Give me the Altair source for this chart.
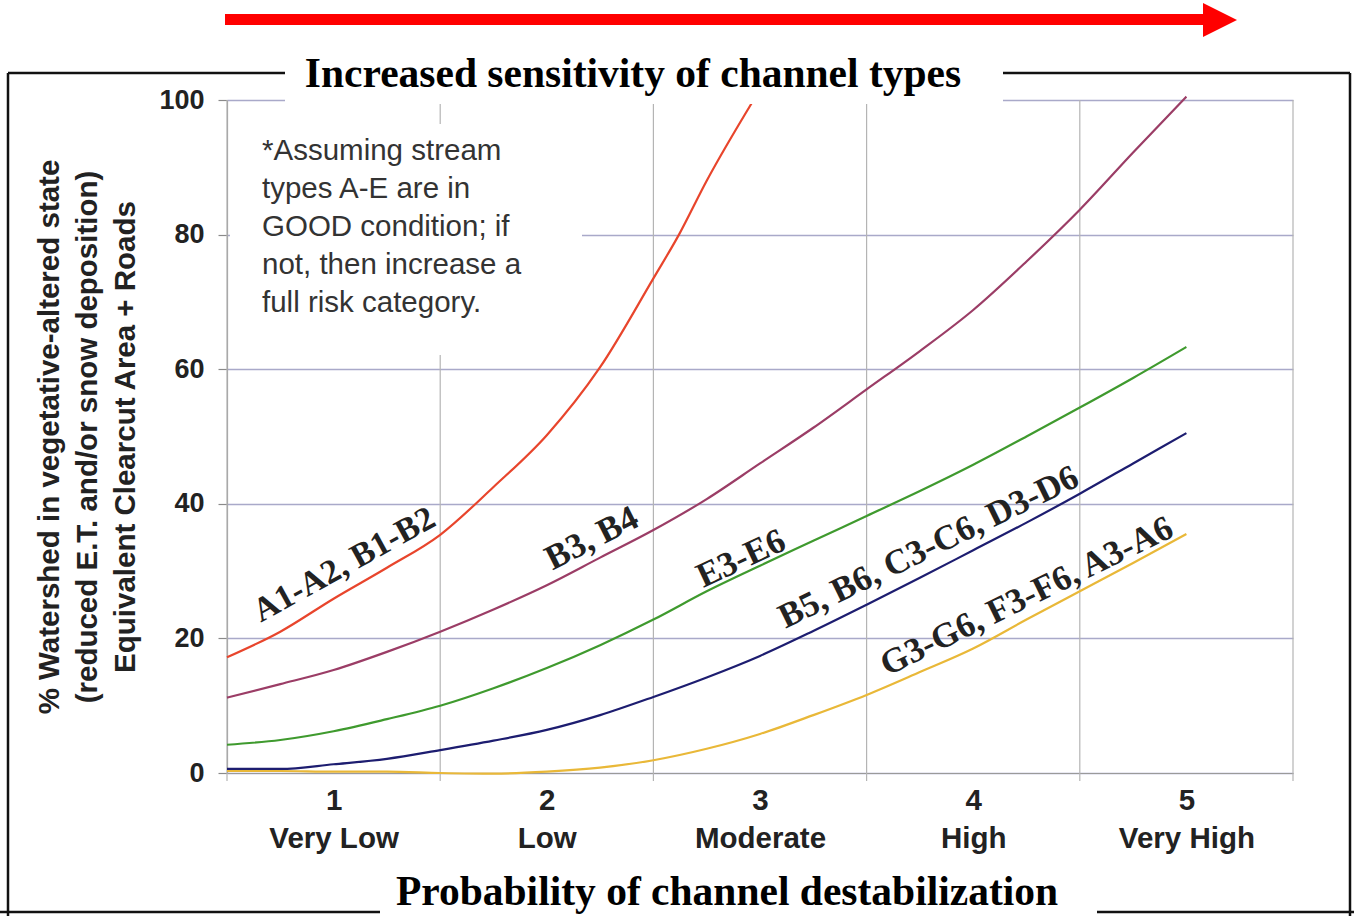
import altair as alt
import pandas as pd

# ---------------- data ----------------
x_steps = [0.5, 0.75, 1.0, 1.25, 1.5, 1.75, 2.0, 2.25, 2.5, 2.75, 3.0,
           3.25, 3.5, 3.75, 4.0, 4.25, 4.5, 4.75, 5.0]
red_x = [0.5, 0.75, 1.0, 1.25, 1.5, 1.75, 2.0, 2.25, 2.5, 2.62, 2.75, 2.97]
red_y = [17.2, 21.0, 25.9, 30.5, 35.4, 42.5, 50.2, 60.3, 73.5, 80.0, 88.0, 100.0]
purple_y = [11.2, 13.2, 15.3, 18.0, 21.0, 24.3, 27.9, 32.0, 36.1, 40.7, 46.0,
            51.3, 57.0, 62.7, 68.8, 76.0, 83.7, 92.2, 100.5]
green_y = [4.2, 4.9, 6.2, 8.0, 10.0, 12.6, 15.6, 19.0, 22.8, 27.0, 30.8,
           34.5, 38.2, 41.9, 45.8, 50.0, 54.3, 58.7, 63.3]
navy_y = [0.6, 0.6, 1.3, 2.1, 3.4, 4.8, 6.4, 8.6, 11.3, 14.2, 17.4,
          21.1, 25.0, 29.0, 33.1, 37.2, 41.5, 46.0, 50.5]
yellow_y = [0.3, 0.3, 0.2, 0.2, 0.0, -0.1, 0.2, 0.8, 1.9, 3.6, 5.8,
            8.6, 11.6, 15.0, 18.5, 22.8, 27.0, 31.2, 35.5]

series_names = ["A1-A2, B1-B2", "B3, B4", "E3-E6",
                "B5, B6, C3-C6, D3-D6", "G3-G6, F3-F6, A3-A6"]
series_colors = ["#e8452c", "#9b3d66", "#3f9a2e", "#1d1d70", "#e9b838"]

category_numbers = [1, 2, 3, 4, 5]
category_names = ["Very Low", "Low", "Moderate", "High", "Very High"]
band_edges = [0.5, 1.5, 2.5, 3.5, 4.5, 5.5]
y_ticks = [0, 20, 40, 60, 80, 100]

# curve label anchors (data coordinates), rotation and size
label_x = [1.05, 2.21, 2.91, 3.79, 4.25]
label_y = [30.9, 34.9, 31.9, 33.6, 26.3]
label_angle = [331, 333, 335, 334, 334]
label_size = [34, 35, 35, 35, 35]

note_lines = ["*Assuming stream", "types A-E are in", "GOOD condition; if",
              "not, then increase a", "full risk category."]
ytitle_lines = ["% Watershed in vegetative-altered state",
                "(reduced E.T. and/or snow deposition)",
                "Equivalent Clearcut Area + Roads"]

# ---------------- tables ----------------
rows = []
for xv, yv in zip(red_x, red_y):
    rows.append({"series": series_names[0], "x": xv, "y": yv})
for name, ys in zip(series_names[1:], [purple_y, green_y, navy_y, yellow_y]):
    for xv, yv in zip(x_steps, ys):
        rows.append({"series": name, "x": xv, "y": yv})
curves = pd.DataFrame(rows)

labels = pd.DataFrame({"series": series_names, "x": label_x, "y": label_y,
                       "angle": label_angle, "size": label_size})
edges = pd.DataFrame({"x": band_edges})

W, H = 1066, 673
xscale = alt.Scale(domain=[0.5, 5.5], nice=False, zero=False)
yscale = alt.Scale(domain=[0, 100], nice=False, zero=False)
color = alt.Color("series:N", scale=alt.Scale(domain=series_names, range=series_colors),
                  legend=None)

name_arr = "['', " + ", ".join("'" + n + "'" for n in category_names) + "]"
label_expr = "[format(datum.value, 'd'), " + name_arr + "[datum.value]]"

# vertical grid lines + downward ticks at band edges
vgrid = alt.Chart(edges).mark_rule(color="#b4b4b4", strokeWidth=1.2).encode(
    x=alt.X("x:Q", scale=xscale),
    y=alt.value(0), y2=alt.value(H + 8))

# base with axes
axes = alt.Chart(curves).mark_line(opacity=0).encode(
    x=alt.X("x:Q", scale=xscale, title=None,
            axis=alt.Axis(values=category_numbers, labelExpr=label_expr, ticks=False,
                          grid=False, domainColor="#9a9a9a", domainWidth=1.2,
                          labelFont="Liberation Sans", labelFontWeight="bold",
                          labelFontSize=29.5, labelColor="#222", labelLineHeight=38,
                          labelPadding=13, labelBaseline="top")),
    y=alt.Y("y:Q", scale=yscale, title=None,
            axis=alt.Axis(values=y_ticks, tickSize=9, tickColor="#8a8a8a", tickWidth=1.2,
                          domainColor="#9a9a9a", domainWidth=1.2,
                          gridColor="#a9a9c9", gridWidth=1.3,
                          labelFont="Liberation Sans", labelFontWeight="bold",
                          labelFontSize=27, labelColor="#222", labelPadding=14)),
)

# white box behind the note (hides grid lines)
note_box = alt.Chart(pd.DataFrame({"a": [0]})).mark_rect(color="white").encode(
    x=alt.value(3), x2=alt.value(355), y=alt.value(24), y2=alt.value(255))

lines = alt.Chart(curves).mark_line(strokeWidth=2.2, interpolate="monotone").encode(
    x=alt.X("x:Q", scale=xscale), y=alt.Y("y:Q", scale=yscale), color=color,
    detail="series:N")

curve_labels = alt.Chart(labels).mark_text(
    font="Liberation Serif", fontWeight="bold", color="#222",
    align="center", baseline="middle").encode(
    x=alt.X("x:Q", scale=xscale), y=alt.Y("y:Q", scale=yscale),
    text="series:N", angle=alt.Angle("angle:Q", scale=None),
    size=alt.Size("size:Q", scale=None, legend=None))

note = alt.Chart(pd.DataFrame({"a": [0]})).mark_text(
    text=note_lines, font="Liberation Sans", fontSize=29.5, color="#333",
    align="left", baseline="top", lineHeight=38).encode(
    x=alt.value(35), y=alt.value(37))

# title box on top of everything in the upper band
title_box = alt.Chart(pd.DataFrame({"a": [0]})).mark_rect(color="white").encode(
    x=alt.value(58), x2=alt.value(776), y=alt.value(-50), y2=alt.value(4))

top_title = alt.Chart(pd.DataFrame({"t": ["Increased sensitivity of channel types"]})).mark_text(
    font="Liberation Serif", fontWeight="bold", fontSize=41.5, color="black",
    align="center", baseline="alphabetic").encode(
    x=alt.value(406), y=alt.value(-13), text="t:N")

bottom_title = alt.Chart(pd.DataFrame({"t": ["Probability of channel destabilization"]})).mark_text(
    font="Liberation Serif", fontWeight="bold", fontSize=41.5, color="black",
    align="center", baseline="alphabetic").encode(
    x=alt.value(500), y=alt.value(805), text="t:N")

ytitle = alt.Chart(pd.DataFrame({"t": ytitle_lines, "px": [-177, -139, -101],
                                 "py": [337, 337, 337]})).mark_text(
    font="Liberation Sans", fontWeight="bold", fontSize=29.5, color="#222",
    angle=270, align="center", baseline="middle").encode(
    x=alt.X("px:Q", scale=None), y=alt.Y("py:Q", scale=None), text="t:N")

# outer frame, broken where the titles sit
frame = pd.DataFrame({
    "x1": [-219, 776, -219, 1123, -227, 870],
    "x2": [58, 1123, -219, 1123, 153, 1127],
    "y1": [-27, -27, -27, -27, 812, 812],
    "y2": [-27, -27, 816, 816, 812, 812],
})
frame_rules = alt.Chart(frame).mark_rule(color="#111", strokeWidth=2.5).encode(
    x=alt.X("x1:Q", scale=None), x2="x2:Q",
    y=alt.Y("y1:Q", scale=None), y2="y2:Q")

# red arrow
arrow_body = alt.Chart(pd.DataFrame({"a": [0]})).mark_rect(color="#ff0000").encode(
    x=alt.value(-2), x2=alt.value(978), y=alt.value(-86), y2=alt.value(-75))
arrow_head = alt.Chart(pd.DataFrame({"a": [0]})).mark_point(
    shape="M -1 -1 L 1 0 L -1 1 Z", filled=True, color="#ff0000", opacity=1,
    size=1156).encode(x=alt.value(993), y=alt.value(-80))

chart = alt.layer(
    vgrid, axes, note_box, lines, curve_labels, note, title_box,
    top_title, bottom_title, ytitle, frame_rules, arrow_body, arrow_head
).properties(
    width=W, height=H,
    autosize=alt.AutoSizeParams(type="none"),
    padding={"left": 227, "top": 100, "right": 61, "bottom": 143},
    background="white",
).configure_view(stroke=None)

chart.save("out.html", embed_options={"renderer": "svg", "actions": False})
